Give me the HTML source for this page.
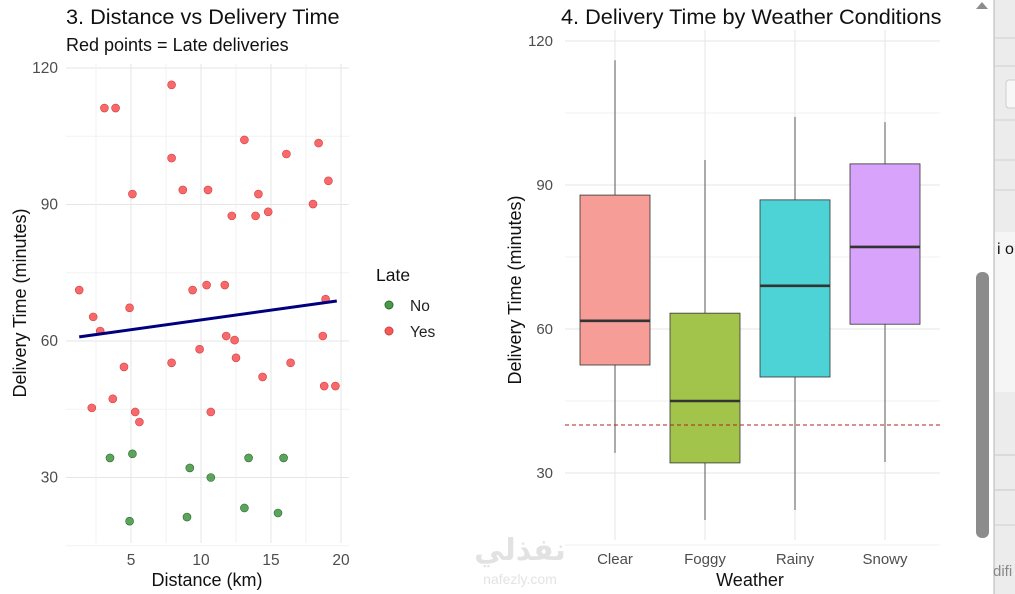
<!DOCTYPE html>
<html><head><meta charset="utf-8"><style>
html,body{margin:0;padding:0;background:#fff;width:1015px;height:594px;overflow:hidden;font-family:"Liberation Sans",sans-serif}
</style></head><body>
<svg id="c" width="1015" height="594" xmlns="http://www.w3.org/2000/svg" font-family="Liberation Sans, sans-serif">
<g id="left"></g>
<g id="right"></g>
<g>
<rect x="994" y="0" width="21" height="594" fill="#ececec"/>
<line x1="994" y1="0" x2="994" y2="594" stroke="#b5b5b5"/>
<line x1="995" y1="38" x2="1015" y2="38" stroke="#d0d0d0"/><line x1="995" y1="66" x2="1015" y2="66" stroke="#d0d0d0"/>
<rect x="1006" y="80" width="12" height="28" rx="3" fill="#f7f7f7" stroke="#ccc"/>
<line x1="995" y1="120" x2="1015" y2="120" stroke="#d0d0d0"/><line x1="995" y1="160" x2="1015" y2="160" stroke="#d0d0d0"/><line x1="995" y1="190" x2="1015" y2="190" stroke="#d0d0d0"/>
<rect x="995" y="232" width="20" height="160" fill="#f5f5f5"/>
<text x="997" y="254" font-size="16" fill="#111">i or</text>
<line x1="995" y1="455" x2="1015" y2="455" stroke="#c8c8c8"/><line x1="995" y1="490" x2="1015" y2="490" stroke="#c8c8c8"/><line x1="995" y1="525" x2="1015" y2="525" stroke="#d0d0d0"/>
<text x="993" y="576" font-size="15" fill="#888">difi</text>
</g>
<g>
<path d="M976 9 L982 2 L988 9 Z" fill="#8c8c8c"/>
<rect x="976" y="272" width="13" height="266" rx="6" fill="#8c8c8c"/>
</g>
<g opacity="0.18">
<text x="520" y="560" font-size="30" font-weight="bold" fill="#666" text-anchor="middle" font-family="DejaVu Sans, sans-serif">نفذلي</text>
<text x="520" y="584" font-size="14" fill="#666" text-anchor="middle">nafezly.com</text>
</g>
</svg>
<script>
const NS='http://www.w3.org/2000/svg';
function mk(p,t,a,txt){const e=document.createElementNS(NS,t);for(const k in a)e.setAttribute(k,a[k]);if(txt!==undefined)e.textContent=txt;p.appendChild(e);return e;}
// ---- scatter data ----
const lateX=[1.3,2.3,2.8,3.1,3.9,5.1,7.9,7.9,8.7,10.5,12.2,13.1,14.1,13.9,14.8,16.1,18.4,18.0,19.1,9.4,10.4,11.7,11.8,12.4,12.5,4.9,4.5,7.9,9.9,14.4,16.4,3.7,2.2,5.3,5.6,10.7,18.7,18.8,19.6,18.9];
const lateY=[71.2,65.3,62.2,111.2,111.2,92.3,116.3,100.2,93.2,93.2,87.5,104.2,92.3,87.5,88.4,101.1,103.5,90.1,95.2,71.2,72.3,72.3,61.1,60.2,56.3,67.3,54.3,55.2,58.2,52.1,55.2,47.3,45.3,44.4,42.2,44.4,61.1,50.1,50.1,69.2];
const onX=[3.5,5.1,9.2,10.7,13.4,15.9,4.9,9.0,13.1,15.5];
const onY=[34.3,35.2,32.1,30.0,34.3,34.3,20.4,21.3,23.3,22.2];
const fitX=[1.3,19.7];
const fitY=[60.9,68.8];
const sxTicks=[5,10,15,20];
const syTicks=[30,60,90,120];
const sx=v=>131+(v-5)*14;
const sy=v=>68+(120-v)*4.55;
const L=document.getElementById('left');
mk(L,'text',{x:66,y:24,'font-size':21.7,fill:'#111',},'3. Distance vs Delivery Time');
mk(L,'text',{x:66,y:51,'font-size':18,fill:'#111',},'Red points = Late deliveries');
for(let v=15;v<=120;v+=15){const g=mk(L,'line',{x1:66,x2:349,y1:sy(v),y2:sy(v),stroke:v%30?'#f2f2f2':'#e6e6e6'});}
for(let v=2.5;v<=20;v+=2.5){const g=mk(L,'line',{x1:sx(v),x2:sx(v),y1:64,y2:543,stroke:v%5?'#f2f2f2':'#e6e6e6'});}
syTicks.forEach(v=>{const t=mk(L,'text',{x:58,y:sy(v)+5,'font-size':15.5,fill:'#4d4d4d','text-anchor':'end'},v);});
sxTicks.forEach(v=>{const t=mk(L,'text',{x:sx(v),y:565,'font-size':15.5,fill:'#4d4d4d','text-anchor':'middle'},v);});
mk(L,'text',{x:207,y:586,'font-size':18,fill:'#111','text-anchor':'middle',},'Distance (km)');
mk(L,'text',{x:26,y:303,'font-size':18,fill:'#111','text-anchor':'middle',transform:'rotate(-90 26 303)',},'Delivery Time (minutes)');
lateX.forEach((x,i)=>{const c=mk(L,'circle',{cx:sx(x),cy:sy(lateY[i]),r:4,fill:'#f8585a','fill-opacity':0.9,stroke:'#d04040','stroke-width':0.6});});
onX.forEach((x,i)=>{const c=mk(L,'circle',{cx:sx(x),cy:sy(onY[i]),r:4,fill:'#4a9a4a','fill-opacity':0.9,stroke:'#2d6b2d','stroke-width':0.6});});
mk(L,'line',{x1:sx(fitX[0]),y1:sy(fitY[0]),x2:sx(fitX[1]),y2:sy(fitY[1]),stroke:'#00007f','stroke-width':3,});
mk(L,'text',{x:376,y:281,'font-size':17.5,fill:'#111',},'Late');
mk(L,'circle',{cx:389,cy:305,r:4,fill:'#4a9a4a',stroke:'#2d6b2d',});
mk(L,'text',{x:410,y:311,'font-size':15.5,fill:'#222',},'No');
mk(L,'circle',{cx:389,cy:331,r:4,fill:'#f8585a',stroke:'#d04040',});
mk(L,'text',{x:410,y:337,'font-size':15.5,fill:'#222',},'Yes');
// ---- boxplot data ----
const cats=['Clear','Foggy','Rainy','Snowy'];
const wLo=[34.2,20.2,22.3,32.3];
const q1=[52.5,32.1,50.0,61.0];
const med=[61.7,45.0,69.0,77.1];
const q3=[87.9,63.3,86.9,94.4];
const wHi=[116,95.2,104.2,103.1];
const threshold=[40];
const byTicks=[30,60,90,120];
const fills=['#f59d96','#a3c44a','#4dd2d6','#d7a3fb'];
const bx=i=>615+i*90;
const by=v=>41+(120-v)*4.8;
const R=document.getElementById('right');
mk(R,'text',{x:561,y:24,'font-size':21.7,fill:'#111',},'4. Delivery Time by Weather Conditions');
for(let v=15;v<=120;v+=15){const g=mk(R,'line',{x1:565,x2:940,y1:by(v),y2:by(v),stroke:v%30?'#f2f2f2':'#e6e6e6'});}
cats.forEach((c,i)=>{const g=mk(R,'line',{x1:bx(i),x2:bx(i),y1:30,y2:540,stroke:'#e6e6e6'});});
byTicks.forEach(v=>{const t=mk(R,'text',{x:553,y:by(v)+5,'font-size':15,fill:'#4d4d4d','text-anchor':'end'},v);});
cats.forEach((c,i)=>{
 const w=mk(R,'line',{x1:bx(i),x2:bx(i),y1:by(wHi[i]),y2:by(wLo[i]),stroke:'#333','stroke-width':0.8});
 const b=mk(R,'rect',{x:bx(i)-35,y:by(q3[i]),width:70,height:by(q1[i])-by(q3[i]),fill:fills[i],stroke:'#333','stroke-width':0.8});
 const m=mk(R,'line',{x1:bx(i)-35,x2:bx(i)+35,y1:by(med[i]),y2:by(med[i]),stroke:'#333','stroke-width':2.6});
 const t=mk(R,'text',{x:bx(i),y:564,'font-size':15,fill:'#4d4d4d','text-anchor':'middle'},c);
});
mk(R,'line',{x1:565,x2:940,y1:by(threshold[0]),y2:by(threshold[0]),stroke:'#b22222','stroke-dasharray':'4 3','stroke-width':1,});
mk(R,'text',{x:750,y:586,'font-size':18,fill:'#111','text-anchor':'middle',},'Weather');
mk(R,'text',{x:521,y:290,'font-size':18,fill:'#111','text-anchor':'middle',transform:'rotate(-90 521 290)',},'Delivery Time (minutes)');
</script>
</body></html>
